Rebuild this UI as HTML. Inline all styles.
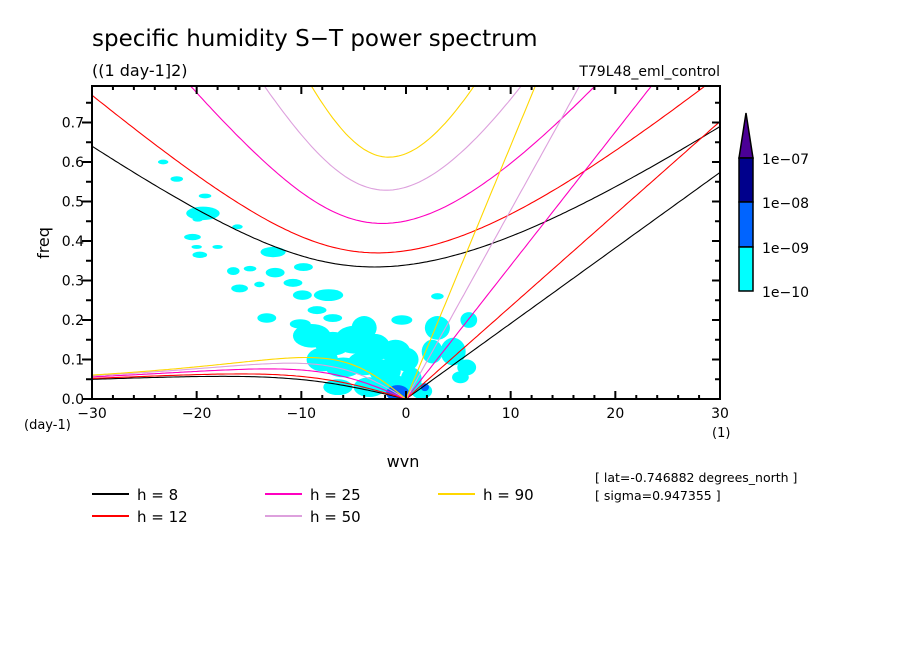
<!DOCTYPE html>
<html><head><meta charset="utf-8"><style>
html,body{margin:0;padding:0;background:#fff;}
svg text{font-family:"DejaVu Sans","Liberation Sans",sans-serif;fill:#000;}
</style></head><body>
<svg id="chart" width="904" height="654" viewBox="0 0 904 654" xmlns="http://www.w3.org/2000/svg">
<text x="92" y="46" font-size="23">specific humidity S−T power spectrum</text>
<text x="92" y="76" font-size="16">((1 day-1]2)</text>
<text x="720" y="76" font-size="14" text-anchor="end">T79L48_eml_control</text>
<g id="blobs"></g>
<g id="curves"></g>
<rect x="92" y="86" width="628" height="313" fill="none" stroke="#000" stroke-width="2"/>
<g id="axes"></g>
<text transform="translate(49,243) rotate(-90)" font-size="16" text-anchor="middle">freq</text>
<text x="24" y="429" font-size="13">(day-1)</text>
<text x="712" y="437" font-size="13">(1)</text>
<text x="403" y="467" font-size="16" text-anchor="middle">wvn</text>
<text x="595" y="482" font-size="12.5">[ lat=-0.746882 degrees_north ]</text>
<text x="595" y="500" font-size="12.5">[ sigma=0.947355 ]</text>
<g id="legend"></g>
<g id="colorbar"></g>
</svg>
<script>
const depths=[8,12,25,50,90];
const depthColors=['#000000','#ff0000','#ff00c0','#dda0dd','#ffd700'];
const xTicks=[-30,-20,-10,0,10,20,30];
const yTicks=[0,0.1,0.2,0.3,0.4,0.5,0.6,0.7];
const cbLabels=['1e-07','1e-08','1e-09','1e-10'];
const cbColors=['#00008c','#0064ff','#00ffff'];
// blobs: wavenumber, freq, half-width (wvn), half-height (freq), level
const blobS=[-23.2,-21.9,-19.2,-19.4,-19.9,-16.1,-20.4,-20,-19.7,-18,-12.7,-16.5,-12.5,-14.9,-9.8,-15.9,-14,-10.8,-9.9,-7.4,-8.5,-13.3,-10.1,-7,-0.4,-9,-7,-5,-3,-1,-8,-6,-4,-2,0,-6.5,-3.5,-1.5,0.5,3,4.5,5.8,3,5.2,-4,-2,1.5,2.5,6,-0.8,1.8];
const blobF=[0.60,0.557,0.514,0.47,0.455,0.436,0.41,0.385,0.365,0.385,0.372,0.324,0.32,0.33,0.334,0.28,0.29,0.294,0.263,0.263,0.225,0.205,0.19,0.205,0.2,0.16,0.14,0.15,0.13,0.12,0.1,0.08,0.09,0.07,0.1,0.03,0.03,0.04,0.05,0.18,0.12,0.08,0.26,0.055,0.18,0.06,0.02,0.12,0.2,0.015,0.03];
const blobW=[0.5,0.6,0.6,1.6,0.5,0.5,0.8,0.5,0.7,0.5,1.2,0.6,0.9,0.6,0.9,0.8,0.5,0.9,0.9,1.4,0.9,0.9,1.0,0.9,1.0,1.8,1.7,1.8,1.5,1.4,1.5,1.7,1.6,1.5,1.2,1.4,1.5,1.4,1.0,1.2,1.2,0.9,0.6,0.8,1.2,1.0,1.0,1.0,0.8,1.1,0.4];
const blobH=[0.006,0.007,0.006,0.017,0.006,0.006,0.008,0.005,0.008,0.005,0.013,0.01,0.012,0.007,0.01,0.01,0.007,0.01,0.012,0.015,0.01,0.012,0.012,0.01,0.012,0.03,0.03,0.035,0.035,0.03,0.03,0.025,0.03,0.03,0.03,0.02,0.025,0.025,0.03,0.03,0.035,0.02,0.008,0.015,0.03,0.035,0.02,0.03,0.02,0.02,0.01];
const blobL=[2,2,2,2,2,2,2,2,2,2,2,2,2,2,2,2,2,2,2,2,2,2,2,2,2,2,2,2,2,2,2,2,2,2,2,2,2,2,2,2,2,2,2,2,2,2,2,2,2,1,1];
const X0=92,X1=720,Y0=399,PPF=395;
const xs=s=>X0+(s+30)/60*(X1-X0);
const ys=f=>Y0-f*PPF;
const NS='http://www.w3.org/2000/svg';
function mk(tag,attrs,parent){const e=document.createElementNS(NS,tag);for(const k in attrs)e.setAttribute(k,attrs[k]);parent.appendChild(e);return e;}
const gB=document.getElementById('blobs');
const cp=mk('clipPath',{id:'pc'},document.getElementById('chart'));
mk('rect',{x:92,y:86,width:628,height:313},cp);
gB.setAttribute('clip-path','url(#pc)');
for(let i=0;i<blobS.length;i++){
 const e=mk('ellipse',{cx:xs(blobS[i]),cy:ys(blobF[i]),rx:blobW[i]*10.47,ry:blobH[i]*PPF,fill:cbColors[blobL[i]]},gB);
 
 
}
// dispersion curves
const g=9.81,a=6.371e6,Om=7.292e-5,beta=2*Om/a,n=1;
const toF=w=>w*86400/(2*Math.PI);
function solve(c,k,w0){let w=w0;for(let it=0;it<60;it++){const F=w*w*w-c*c*(k*k+(2*n+1)*beta/c)*w-c*c*beta*k;const D=3*w*w-c*c*(k*k+(2*n+1)*beta/c);w-=F/D;}return w;}
const gC=document.getElementById('curves');
gC.setAttribute('clip-path','url(#pc)');
depths.forEach((h,di)=>{
 const c=Math.sqrt(g*h);const col=depthColors[di];
 let pk=[],pi=[],pr=[];
 for(let s=-30;s<=30.001;s+=0.25){
  const k=s/a;
  pk.push([xs(s),ys(Math.max(0,toF(c*k)))]);
  const w0=Math.sqrt(c*c*k*k+(2*n+1)*beta*c)*1.5;
  pi.push([xs(s),ys(toF(solve(c,k,w0)))]);
  if(s<=0){const wr=-beta*k/(k*k+(2*n+1)*beta/c);pr.push([xs(s),ys(toF(solve(c,k,wr)))]);}
 }
 pk=pk.filter((p,i)=>i>=120);
 [['kelvin',pk],['ig',pi],['rossby',pr]].forEach(([nm,pts])=>{
  const p=mk('polyline',{points:pts.map(q=>q[0].toFixed(1)+','+q[1].toFixed(1)).join(' '),fill:'none',stroke:col,'stroke-width':1.1},gC);
  
  
 });
});
// axes ticks
const gA=document.getElementById('axes');
for(let i=0;i<=15;i++){
 const v=i*0.05,y=ys(v),maj=i%2===0;
 mk('line',{x1:92-(maj?10:6),y1:y,x2:92,y2:y,stroke:'#000','stroke-width':2},gA);
 mk('line',{x1:720,y1:y,x2:720-(maj?8:5),y2:y,stroke:'#000','stroke-width':2},gA);
}
yTicks.forEach(v=>{const t=mk('text',{x:84,y:ys(v)+5,'font-size':14,'text-anchor':'end'},gA);t.textContent=v.toFixed(1);
 });
for(let s=-30;s<=30;s+=2){
 const x=xs(s),maj=s%10===0;
 mk('line',{x1:x,y1:399,x2:x,y2:399-(maj?8:4),stroke:'#000','stroke-width':2},gA);
 mk('line',{x1:x,y1:86,x2:x,y2:86+(maj?8:4),stroke:'#000','stroke-width':2},gA);
}
xTicks.forEach(s=>{const t=mk('text',{x:xs(s),y:418,'font-size':14,'text-anchor':'middle'},gA);t.textContent=(s<0?'−':'')+Math.abs(s);
 });
// legend
const gL=document.getElementById('legend');
const lx=[92,265,438],lyy=[494,516];
depths.forEach((h,i)=>{
 const col=Math.floor(i/2),row=i%2;const x=lx[col],y=lyy[row];
 const l=mk('line',{x1:x,y1:y,x2:x+37,y2:y,stroke:depthColors[i],'stroke-width':2},gL);
 
 const t=mk('text',{x:x+45,y:y+6,'font-size':15,'xml:space':'preserve'},gL);t.textContent='h = '+(h<10?' ':'')+h;
 
});
// colorbar
const gK=document.getElementById('colorbar');
const cy=[158,202,247,291];
mk('polygon',{points:'739,158 753,158 746,113',fill:'#4b0096',stroke:'#000','stroke-width':1.5},gK);
for(let i=0;i<3;i++){
 const r=mk('rect',{x:739,y:cy[i],width:14,height:cy[i+1]-cy[i],fill:cbColors[i],stroke:'#000','stroke-width':1.5},gK);
 
}
cbLabels.forEach((lb,i)=>{const t=mk('text',{x:762,y:cy[i]+6,'font-size':14},gK);t.textContent=lb.replace('-','−');
 });
</script>
</body></html>
